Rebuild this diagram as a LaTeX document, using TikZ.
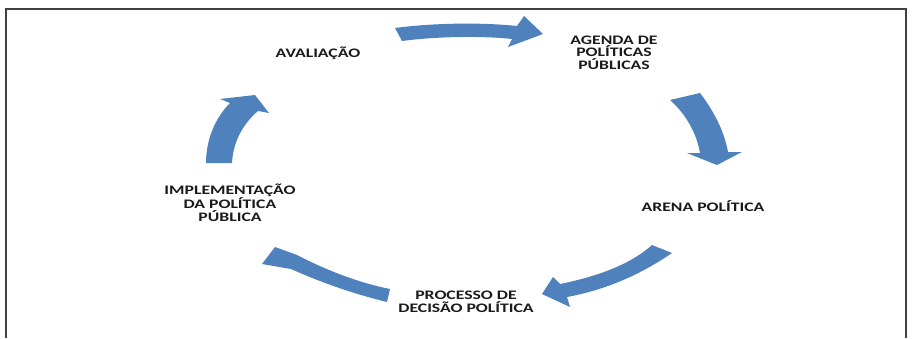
\documentclass[tikz,border=0pt]{standalone}
\usepackage{fontspec}
\newfontfamily\rotulofont[FakeStretch=1.36]{Carlito}

\begin{document}
\begin{tikzpicture}[x=1pt,y=-1pt]

% Cores
\definecolor{azulSeta}{HTML}{4F81BD}
\definecolor{cinzaBorda}{HTML}{404040}
\definecolor{textoEsc}{HTML}{1A1A1A}

\tikzset{
  seta/.style={fill=azulSeta, draw=none},
  rotulo/.style={font=\rotulofont\bfseries\fontsize{13}{12.5}\selectfont, text=textoEsc,
    align=center, inner sep=0pt, anchor=base}
}

\useasboundingbox (0,0) rectangle (913,338);

% Moldura
\draw[cinzaBorda, line width=1.2pt] (6,338) -- (6,9) -- (906,9) -- (906,338);

% Etapas do ciclo (base = ultima linha)
\node[rotulo] (aval) at (318,57) {AVALIAÇÃO};
\node[rotulo] (agenda) at (614,69) {AGENDA DE\\POLÍTICAS\\PÚBLICAS};
\node[rotulo] (arena) at (703,211) {ARENA POLÍTICA};
\node[rotulo] (decisao) at (466,312) {PROCESSO DE\\DECISÃO POLÍTICA};
\node[rotulo] (implem) at (230,221) {IMPLEMENTAÇÃO\\DA POLÍTICA\\PÚBLICA};

% Setas curvas
% avaliacao -> agenda (topo)
\path[seta] (395,28) .. controls (440,22) and (490,23) .. (517,26)
  -- (524,16) -- (543,34) -- (508,47) -- (512,39)
  .. controls (485,36) and (440,36) .. (402,41) -- cycle;

% agenda -> arena (direita)
\path[seta] (670,100) -- (700,93) .. controls (713,110) and (724,130) .. (728,152)
  -- (742,152) -- (717,165) -- (687,153) -- (700,153)
  .. controls (697,135) and (687,115) .. (670,100) -- cycle;

% arena -> decisao (baixo direita)
\path[seta] (652,245) -- (672,253) .. controls (640,275) and (605,290) .. (567,297)
  -- (570,307) -- (542,294) -- (553,277) -- (560,284)
  .. controls (595,277) and (630,265) .. (652,245) -- cycle;

% decisao -> implementacao (baixo esquerda)
\path[seta] (390,289) -- (387,302) .. controls (350,293) and (318,281) .. (291,269)
  -- (262,264) -- (275,247) -- (297,255)
  .. controls (322,268) and (355,282) .. (390,289) -- cycle;

% implementacao -> avaliacao (esquerda)
\path[seta] (206,163) .. controls (206,140) and (215,118) .. (230,103)
  -- (220,99) -- (255,95) -- (269,113) -- (258,111)
  .. controls (245,122) and (233,140) .. (232,163) -- cycle;

\end{tikzpicture}
\end{document}
